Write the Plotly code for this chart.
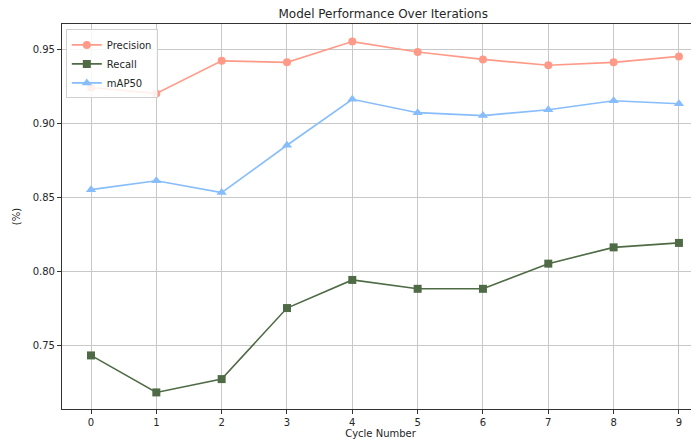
import plotly.graph_objects as go

cycles = [0, 1, 2, 3, 4, 5, 6, 7, 8, 9]
precision = [0.924, 0.920, 0.942, 0.941, 0.955, 0.948, 0.943, 0.939, 0.941, 0.945]
recall = [0.743, 0.718, 0.727, 0.775, 0.794, 0.788, 0.788, 0.805, 0.816, 0.819]
map50 = [0.855, 0.861, 0.853, 0.885, 0.916, 0.907, 0.905, 0.909, 0.915, 0.913]
y_ticks = [0.75, 0.80, 0.85, 0.90, 0.95]

FONT = "DejaVu Sans"
TXT = "#262626"

fig = go.Figure()
fig.add_trace(go.Scatter(x=cycles, y=precision, name="Precision", mode="lines+markers",
                         line=dict(color="#FF9A88", width=1.6),
                         marker=dict(symbol="circle", size=8, color="#FF9A88")))
fig.add_trace(go.Scatter(x=cycles, y=recall, name="Recall", mode="lines+markers",
                         line=dict(color="#4F6B46", width=1.6),
                         marker=dict(symbol="square", size=8, color="#4F6B46")))
fig.add_trace(go.Scatter(x=cycles, y=map50, name="mAP50", mode="lines+markers",
                         line=dict(color="#86BDFA", width=1.6),
                         marker=dict(symbol="triangle-up", size=9, color="#86BDFA")))

# The page body adds an 8px offset, so the figure is sized 8px smaller
fig.update_layout(
    width=691, height=437,
    margin=dict(l=54, r=0, t=16, b=36, autoexpand=False),
    paper_bgcolor="white", plot_bgcolor="white",
    font=dict(family=FONT, size=10, color=TXT),
    title=dict(text="Model Performance Over Iterations", x=0.543, xanchor="center",
               y=1 - 1.5 / 437, yanchor="top", automargin=False,
               font=dict(family=FONT, size=12, color=TXT)),
    showlegend=True,
    legend=dict(x=0.006, y=0.986, xanchor="left", yanchor="top",
                bgcolor="rgba(255,255,255,0.85)", bordercolor="#d0d0d0", borderwidth=1,
                font=dict(family=FONT, size=10, color=TXT), tracegroupgap=0,
                itemwidth=30),
)

fig.update_xaxes(
    range=[-0.444, 9.307], tickmode="array", tickvals=cycles,
    ticktext=[str(c) for c in cycles],
    showgrid=True, gridcolor="#c8c8c8", gridwidth=1,
    showline=True, linecolor="#333333", linewidth=1.2, mirror=True,
    ticks="outside", ticklen=4, tickcolor="#333333",
    zeroline=False, automargin=False,
    title=dict(text="Cycle Number", font=dict(family=FONT, size=10, color=TXT), standoff=2),
)
fig.update_yaxes(
    range=[0.7068, 0.9669], tickmode="array", tickvals=y_ticks,
    ticktext=[f"{v:.2f}" for v in y_ticks],
    showgrid=True, gridcolor="#c8c8c8", gridwidth=1,
    showline=True, linecolor="#333333", linewidth=1.2, mirror=False,
    ticks="outside", ticklen=4, tickcolor="#333333",
    zeroline=False, automargin=False,
    title=dict(text="(%)", font=dict(family=FONT, size=10, color=TXT), standoff=10),
)

fig.write_html("out.html")
